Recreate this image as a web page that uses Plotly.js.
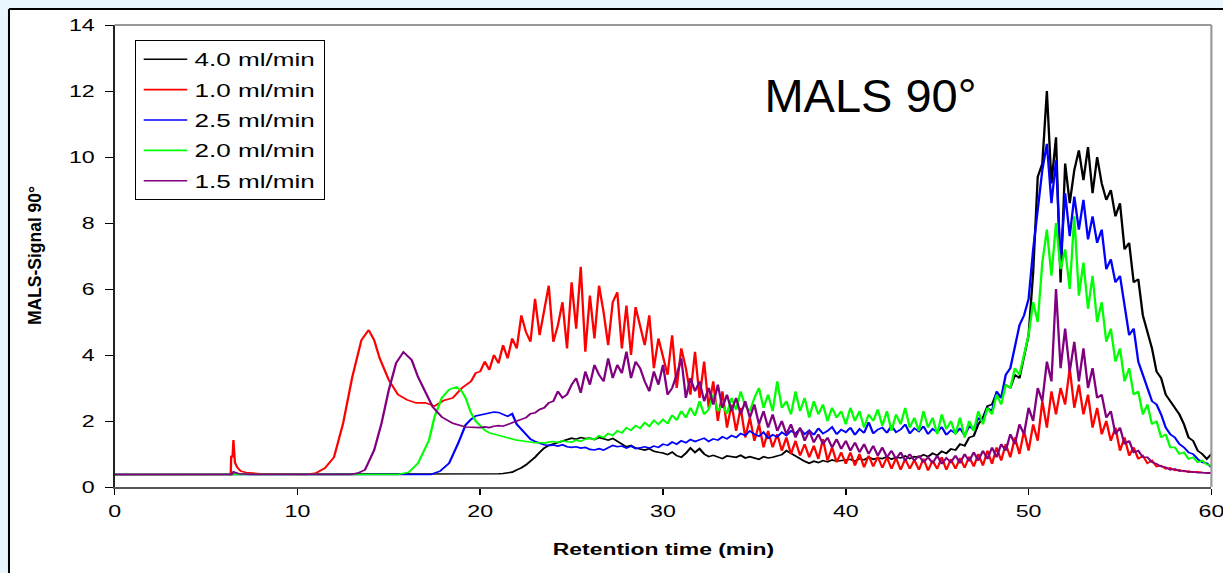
<!DOCTYPE html>
<html><head><meta charset="utf-8">
<script src="https://cdn.plot.ly/plotly-3.0.1.min.js"></script>
<style>
html,body{margin:0;padding:0;overflow:hidden;background:#eaf6fd;}
#chart{width:843px;height:573px;transform:scaleX(1.450771);transform-origin:0 0;}
</style></head><body><div id="chart"></div>
<script>
// ---------- data ----------
const seriesNames = ['4.0 ml/min', '1.0 ml/min', '2.5 ml/min', '2.0 ml/min', '1.5 ml/min'];
const seriesColors = ['#000000', '#ff0000', '#0000ff', '#00ff00', '#800080'];
const xTicks = [0, 10, 20, 30, 40, 50, 60];
const yTicks = [0, 2, 4, 6, 8, 10, 12, 14];

// shared time grid for the noisy part (min)
const T_GRID = [
20,20.25,20.5,20.75,21,21.25,21.5,21.75,
22,22.25,22.5,22.75,23,23.25,23.5,23.75,
24,24.25,24.5,24.75,25,25.25,25.5,25.75,
26,26.25,26.5,26.75,27,27.25,27.5,27.75,
28,28.25,28.5,28.75,29,29.25,29.5,29.75,
30,30.25,30.5,30.75,31,31.25,31.5,31.75,
32,32.25,32.5,32.75,33,33.25,33.5,33.75,
34,34.25,34.5,34.75,35,35.25,35.5,35.75,
36,36.25,36.5,36.75,37,37.25,37.5,37.75,
38,38.25,38.5,38.75,39,39.25,39.5,39.75,
40,40.25,40.5,40.75,41,41.25,41.5,41.75,
42,42.25,42.5,42.75,43,43.25,43.5,43.75,
44,44.25,44.5,44.75,45,45.25,45.5,45.75,
46,46.25,46.5,46.75,47,47.25,47.5,47.75,
48,48.25,48.5,48.75,49,49.25,49.5,49.75,
50,50.25,50.5,50.75,51,51.25,51.5,51.75,
52,52.25,52.5,52.75,53,53.25,53.5,53.75,
54,54.25,54.5,54.75,55,55.25,55.5,55.75,
56,56.25,56.5,56.75,57,57.25,57.5,57.75,
58,58.25,58.5,58.75,59,59.25,59.5,59.75,
60];

// 4.0 ml/min (black)
const K_T0 = [0, 19.75];
const K_Y0 = [0.38, 0.38];
const K_GRID = [
0.38,0.38,0.38,0.39,0.40,0.41,0.42,0.45,
0.52,0.58,0.67,0.78,0.90,1.05,1.18,1.26,
1.30,1.36,1.40,1.44,1.48,1.45,1.50,1.47,
1.48,1.44,1.50,1.46,1.42,1.47,1.38,1.32,
1.22,1.26,1.18,1.15,1.12,1.16,1.08,1.05,
1.03,0.98,1.06,0.95,0.90,1.02,1.18,1.05,
1.16,1.00,0.92,0.96,0.90,0.86,0.94,0.92,
0.90,0.96,0.88,0.92,0.87,0.84,0.92,0.88,
0.90,0.95,0.98,1.10,1.02,0.95,0.85,0.78,
0.72,0.78,0.74,0.80,0.76,0.82,0.78,0.80,
0.80,0.84,0.78,0.86,0.82,0.90,0.84,0.88,
0.86,0.92,0.84,0.90,0.88,0.94,0.86,0.92,
0.90,0.98,0.92,1.02,0.96,1.08,1.02,1.15,
1.12,1.30,1.25,1.50,1.55,1.90,2.10,2.45,
2.50,2.85,2.70,3.10,3.00,3.40,3.30,3.90,
4.60,6.50,9.40,9.80,12.00,9.20,10.60,6.20,
9.80,8.60,9.60,10.20,9.30,10.30,8.90,10.00,
9.20,8.70,9.00,8.20,8.60,7.20,7.40,6.20,
6.30,5.20,4.70,4.20,3.50,3.30,2.80,2.60,
2.40,2.20,1.90,1.50,1.40,1.10,1.00,0.85,
1.00];

// 1.0 ml/min (red)
const R_T0 = [0, 6.35, 6.38, 6.45, 6.5, 6.58, 6.7, 6.9, 7.2, 8.0, 10.5, 11.0, 11.5, 12.0, 12.5, 13.0, 13.5, 13.9, 14.2, 14.5, 15.0, 15.5, 16.0, 16.5, 17.0, 17.5, 18.0, 18.5, 19.0, 19.5, 19.75];
const R_Y0 = [0.38, 0.38, 0.95, 0.90, 1.42, 0.75, 0.60, 0.48, 0.44, 0.40, 0.38, 0.42, 0.57, 0.90, 1.93, 3.33, 4.45, 4.76, 4.45, 3.90, 3.24, 2.80, 2.64, 2.55, 2.55, 2.45, 2.62, 2.70, 3.00, 3.20, 3.45];
const R_GRID = [
3.50,3.80,3.55,4.00,3.75,4.30,3.90,4.50,
4.20,5.20,4.70,4.40,5.70,4.60,5.40,6.10,
4.40,4.90,5.60,4.20,6.20,4.80,6.67,4.10,
5.80,4.50,6.10,5.30,4.30,5.60,5.90,4.20,
5.50,4.00,5.45,4.80,4.30,5.20,3.60,4.50,
3.90,3.40,4.60,3.00,4.20,3.60,2.80,4.10,
2.70,3.80,2.40,3.20,2.00,2.90,1.80,2.50,
1.70,2.40,1.50,2.10,1.40,1.90,1.20,1.70,
1.20,1.60,1.10,1.50,1.00,1.40,0.95,1.30,
0.90,1.25,0.85,1.45,0.80,1.20,0.75,1.05,
0.70,1.05,0.65,1.00,0.60,0.95,0.62,0.92,
0.58,0.90,0.55,0.88,0.52,0.85,0.55,0.82,
0.52,0.86,0.50,0.80,0.55,0.90,0.52,0.84,
0.55,0.88,0.58,0.92,0.62,1.00,0.65,1.10,
0.70,1.20,0.80,1.30,0.90,1.50,1.00,1.70,
1.10,1.90,1.40,2.60,1.80,2.90,2.20,3.00,
2.50,3.60,2.40,3.10,2.20,2.80,1.80,2.40,
1.60,2.00,1.40,1.80,1.10,1.50,0.95,1.20,
0.85,0.95,0.72,0.80,0.62,0.65,0.55,0.58,
0.50,0.52,0.47,0.48,0.45,0.46,0.44,0.44,
0.43];

// 2.5 ml/min (blue)
const B_T0 = [0, 17.3, 17.8, 18.3, 18.8, 19.2, 19.5, 19.75];
const B_Y0 = [0.38, 0.38, 0.48, 0.72, 1.33, 1.88, 2.05, 2.15];
const B_GRID = [
2.18,2.22,2.24,2.27,2.26,2.20,2.14,2.22,
1.90,1.75,1.58,1.45,1.38,1.32,1.28,1.26,
1.27,1.24,1.28,1.22,1.20,1.22,1.18,1.20,
1.14,1.12,1.16,1.12,1.20,1.26,1.22,1.24,
1.18,1.24,1.16,1.20,1.22,1.18,1.24,1.20,
1.30,1.26,1.36,1.30,1.40,1.34,1.44,1.38,
1.42,1.48,1.38,1.46,1.42,1.52,1.46,1.56,
1.50,1.62,1.56,1.70,1.60,1.54,1.66,1.48,
1.58,1.52,1.66,1.56,1.70,1.62,1.76,1.60,
1.72,1.58,1.78,1.62,1.70,1.82,1.60,1.74,
1.66,1.80,1.58,1.76,1.64,1.96,1.62,1.74,
1.80,1.64,1.86,1.66,1.74,1.90,1.62,1.78,
1.68,1.84,1.60,1.76,1.66,1.82,1.58,1.72,
1.62,1.78,1.56,1.84,1.74,2.10,2.00,2.40,
2.30,2.90,2.70,3.40,3.60,4.20,4.90,5.20,
5.70,7.20,8.40,9.60,10.40,8.60,9.90,6.80,
8.90,7.60,8.80,7.80,8.70,7.50,8.20,7.40,
7.80,6.60,6.90,6.20,6.40,5.40,4.60,4.80,
3.80,3.40,3.00,2.60,2.50,2.20,1.80,1.60,
1.50,1.30,1.20,1.05,1.00,0.85,0.75,0.72,
0.60];

// 2.0 ml/min (green)
const G_T0 = [0, 15.5, 16.1, 16.6, 17.2, 17.5, 17.9, 18.3, 18.7, 19.0, 19.2, 19.5, 19.75];
const G_Y0 = [0.38, 0.38, 0.45, 0.72, 1.42, 2.12, 2.70, 2.95, 3.03, 2.90, 2.70, 2.24, 2.00];
const G_GRID = [
1.85,1.72,1.64,1.60,1.56,1.52,1.48,1.45,
1.42,1.40,1.38,1.36,1.34,1.35,1.33,1.36,
1.38,1.35,1.40,1.37,1.36,1.42,1.38,1.45,
1.48,1.44,1.55,1.50,1.62,1.56,1.70,1.64,
1.80,1.72,1.86,1.78,1.95,1.84,2.02,1.90,
2.05,1.92,2.18,2.02,2.30,2.10,2.40,2.16,
2.60,2.20,2.35,2.80,2.30,2.50,2.22,2.70,
2.34,2.90,2.45,2.30,2.70,3.00,2.40,2.80,
2.30,3.20,2.40,2.60,2.20,2.90,2.30,2.70,
2.10,2.60,2.20,2.50,2.00,2.40,2.10,2.30,
1.90,2.40,2.00,2.30,1.80,2.20,2.00,2.35,
1.85,2.30,1.70,2.20,1.90,2.40,1.80,2.10,
1.70,2.30,1.80,2.10,1.60,2.20,1.75,2.00,
1.60,2.10,1.50,2.00,1.70,2.30,1.90,2.40,
2.20,2.80,2.50,3.10,3.00,3.60,3.40,4.00,
4.60,5.60,5.00,6.80,7.80,6.40,8.00,6.60,
7.20,6.00,8.20,5.80,6.80,5.40,6.40,5.00,
5.60,4.40,4.80,3.80,4.20,3.20,3.60,2.80,
2.90,2.20,2.50,1.90,2.00,1.50,1.60,1.20,
1.20,1.00,1.05,0.85,0.90,0.75,0.80,0.68,
0.65];

// 1.5 ml/min (purple)
const P_T0 = [0, 6.4, 6.5, 6.8, 7.5, 12.9, 13.3, 13.7, 14.2, 14.6, 15.0, 15.4, 15.8, 16.25, 16.6, 17.0, 17.4, 17.9, 18.5, 19.2, 19.75];
const P_Y0 = [0.38, 0.38, 0.46, 0.40, 0.38, 0.38, 0.42, 0.52, 1.12, 1.93, 2.94, 3.76, 4.09, 3.85, 3.33, 2.85, 2.43, 2.12, 1.93, 1.82, 1.80];
const P_GRID = [
1.80,1.82,1.80,1.84,1.86,1.84,1.90,1.95,
2.00,2.05,2.10,2.22,2.25,2.35,2.40,2.55,
2.60,2.90,2.70,2.80,3.10,3.30,2.85,3.50,
3.10,3.70,3.40,3.20,3.90,3.30,3.70,3.45,
4.10,3.30,3.80,3.60,3.20,2.90,3.50,3.10,
3.70,2.80,3.00,3.40,3.90,2.70,3.30,2.90,
3.20,2.60,3.00,2.50,3.10,2.40,2.80,2.30,
2.70,2.20,2.60,2.10,2.50,1.90,2.30,1.80,
2.20,1.70,2.00,1.60,1.90,1.50,1.80,1.40,
1.70,1.35,1.60,1.30,1.50,1.20,1.45,1.15,
1.40,1.10,1.35,1.05,1.30,1.00,1.25,0.95,
1.20,0.90,1.10,0.85,1.05,0.80,1.00,0.80,
0.95,0.75,0.90,0.72,0.95,0.70,0.88,0.75,
0.95,0.72,1.00,0.78,1.05,0.80,1.10,0.85,
1.20,0.90,1.30,1.10,1.60,1.30,1.90,1.60,
2.40,2.00,3.00,2.60,3.80,3.20,6.00,3.60,
4.80,3.50,4.40,3.20,4.20,3.00,3.60,2.70,
2.80,2.10,2.30,1.60,1.80,1.30,1.40,1.05,
1.10,0.90,0.90,0.75,0.70,0.62,0.60,0.52,
0.55,0.48,0.50,0.45,0.46,0.43,0.44,0.42,
0.42];

// ---------- chart ----------
const S = 1223 / 843;            // horizontal stretch of the reference
const W = 843, H = 573, ML = 79, MR = 8, MT = 25, MB = 86;
const PW = W - ML - MR, PH = H - MT - MB;
const px = xu => (xu - ML) / PW;       // unstretched pixel -> paper x
const py = y => (H - MB - y) / PH;      // pixel -> paper y

const xs = [K_T0.concat(T_GRID), R_T0.concat(T_GRID), B_T0.concat(T_GRID), G_T0.concat(T_GRID), P_T0.concat(T_GRID)];
const ys = [K_Y0.concat(K_GRID), R_Y0.concat(R_GRID), B_Y0.concat(B_GRID), G_Y0.concat(G_GRID), P_Y0.concat(P_GRID)];

const data = seriesNames.map((n, i) => ({
  type: 'scatter', mode: 'lines', name: n, legendgroup: 'g' + i, x: xs[i], y: ys[i],
  line: {color: seriesColors[i], width: 1.6}
}));

const FONT = 'Liberation Sans, Arial, sans-serif';
const layout = {
  width: W, height: H,
  margin: {l: ML, r: MR, t: MT, b: MB, pad: 0},
  paper_bgcolor: '#eaf6fd', plot_bgcolor: '#ffffff',
  font: {family: FONT, color: '#000'},
  showlegend: true,
  legend: {
    x: px(135 / S), y: py(40), xanchor: 'left', yanchor: 'top',
    bgcolor: '#ffffff', bordercolor: '#000000', borderwidth: 1,
    font: {family: FONT, size: 18, color: '#000'}, tracegroupgap: 4
  },
  xaxis: {
    range: [0, 60], tickvals: xTicks, ticktext: xTicks.map(String),
    ticks: 'outside', ticklen: 6, tickwidth: 1, tickcolor: '#000',
    ticklabeloverflow: 'allow', ticklabelstandoff: 3,
    showline: true, linecolor: '#555555', linewidth: 2,
    showgrid: false, zeroline: false, fixedrange: true,
    tickfont: {family: FONT, size: 16, color: '#000'}
  },
  yaxis: {
    range: [0, 14], tickvals: yTicks, ticktext: yTicks.map(String),
    ticks: 'outside', ticklen: 5.5, tickwidth: 1, tickcolor: '#000',
    ticklabelstandoff: 4,
    showline: true, linecolor: '#222222', linewidth: 1,
    showgrid: false, zeroline: false, fixedrange: true,
    tickfont: {family: FONT, size: 16, color: '#000'}
  },
  shapes: [
    {type: 'rect', xref: 'paper', yref: 'paper', x0: px(6.2), x1: px(W + 2), y0: py(H + 2), y1: py(9), fillcolor: '#ffffff', line: {width: 0}, layer: 'below'},
    {type: 'line', xref: 'paper', yref: 'paper', x0: px(6.2), x1: px(6.2), y0: py(H + 2), y1: py(9), line: {color: '#000', width: 1.4}},
    {type: 'line', xref: 'paper', yref: 'paper', x0: px(6.2), x1: px(W + 2), y0: py(9), y1: py(9), line: {color: '#000', width: 2}},
    {type: 'line', xref: 'paper', yref: 'paper', x0: 0, x1: 1, y0: 1, y1: 1, line: {color: '#999999', width: 2}},
    {type: 'line', xref: 'paper', yref: 'paper', x0: 1, x1: 1, y0: 0, y1: 1, line: {color: '#999999', width: 1.5}}
  ],
  annotations: [
    {text: 'MALS 90°', xref: 'paper', yref: 'paper', x: px(870.5 / S), y: py(96), xanchor: 'center', yanchor: 'middle',
     showarrow: false, font: {family: FONT, size: 47, color: '#000'}},
    {text: 'MALS-Signal 90°', xref: 'paper', yref: 'paper', x: px(35 / S), y: 0.5, xanchor: 'center', yanchor: 'middle',
     textangle: -90, showarrow: false, font: {family: FONT, size: 17.5, weight: 700, color: '#000'}},
    {text: 'Retention time (min)', xref: 'paper', yref: 'paper', x: 0.5, y: py(549), xanchor: 'center', yanchor: 'middle',
     showarrow: false, font: {family: FONT, size: 15.8, weight: 700, color: '#000'}}
  ]
};

Plotly.newPlot('chart', data, layout, {staticPlot: true, displayModeBar: false}).then(function (gd) {
  // texts that are not stretched in the reference: undo the horizontal stretch
  gd.querySelectorAll('g.annotation').forEach(function (g) {
    const idx = g.getAttribute('data-index');
    if (idx === '0' || idx === '1') {
      const bb = g.getBBox();
      const cx = bb.x + bb.width / 2;
      g.setAttribute('transform', 'translate(' + cx + ',0) scale(' + (1 / S) + ',1) translate(' + (-cx) + ',0)');
    }
  });
});
</script></body></html>
